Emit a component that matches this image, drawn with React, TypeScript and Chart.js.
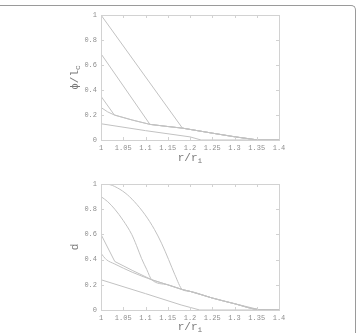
import React, { useEffect, useRef } from "react";
import { Chart, registerables } from "chart.js";
Chart.register(...registerables);

// ---------- axes ----------
const X_TICKS = [1, 1.05, 1.1, 1.15, 1.2, 1.25, 1.3, 1.35, 1.4];
const X_TICK_LABELS = ["1", "1.05", "1.1", "1.15", "1.2", "1.25", "1.3", "1.35", "1.4"];
const Y_TICKS = [0, 0.2, 0.4, 0.6, 0.8, 1];
const Y_TICK_LABELS = ["0", "0.2", "0.4", "0.6", "0.8", "1"];

// ---------- top panel: phi / l_c ----------
const phiCommonX = [1.03, 1.07, 1.11, 1.15, 1.183, 1.25, 1.3, 1.353, 1.4];
const phiCommonY = [0.2, 0.16, 0.125, 0.108, 0.095, 0.055, 0.026, 0, 0];
const phiAX = [1, 1.183];
const phiAY = [1, 0.095];
const phiBX = [1, 1.11];
const phiBY = [0.69, 0.125];
const phiCX = [1, 1.03];
const phiCY = [0.35, 0.2];
const phiDX = [1, 1.015, 1.03];
const phiDY = [0.26, 0.225, 0.2];
const phiEX = [1, 1.1, 1.2, 1.225, 1.4];
const phiEY = [0.13, 0.075, 0.025, 0, 0];

// ---------- bottom panel: d ----------
const dCommonX = [1.114, 1.15, 1.183, 1.2, 1.25, 1.3, 1.355, 1.4];
const dCommonY = [0.24, 0.2, 0.162, 0.148, 0.095, 0.05, 0.003, 0];
const dAX = [1, 1.02, 1.031, 1.054, 1.075, 1.099, 1.12, 1.136, 1.152, 1.166, 1.183];
const dAY = [1, 0.995, 0.98, 0.93, 0.86, 0.756, 0.64, 0.53, 0.4, 0.28, 0.162];
const dBX = [1, 1.015, 1.031, 1.05, 1.069, 1.08, 1.091, 1.103, 1.114];
const dBY = [0.9, 0.86, 0.8, 0.71, 0.6, 0.51, 0.41, 0.32, 0.24];
const dCX = [1, 1.031, 1.07];
const dCY = [0.6, 0.385, 0.315];
const dDX = [1, 1.012, 1.031, 1.07];
const dDY = [0.45, 0.4, 0.365, 0.3];
const dEX = [1, 1.1, 1.18, 1.222, 1.4];
const dEY = [0.24, 0.13, 0.04, 0, 0];

type Pt = { x: number; y: number };

function withCommon(xs: number[], ys: number[], cx: number[], cy: number[], join: boolean): Pt[] {
  const pts: Pt[] = xs.map((x, i) => ({ x, y: ys[i] }));
  if (!join) return pts;
  const last = xs[xs.length - 1];
  cx.forEach((x, i) => {
    if (x > last + 1e-9) pts.push({ x, y: cy[i] });
  });
  return pts;
}

const LINE_COLOR = "#c2c2c2";
const TEXT_COLOR = "#8e8e8e";
const FONT = '"Liberation Mono", "DejaVu Sans Mono", monospace';

type Series = { pts: Pt[]; curved?: boolean };

type PanelProps = {
  top: number;
  height: number;
  plotTop: number;
  plotBottom: number;
  series: Series[];
  yTitle: string;
  yTitleSub: string;
  xTitleY: number;
};

function Panel({ top, height, plotTop, plotBottom, series, yTitle, yTitleSub, xTitleY }: PanelProps) {
  const ref = useRef<HTMLCanvasElement | null>(null);
  useEffect(() => {
    if (!ref.current) return;
    const W = 357;
    const left = 101;
    const right = 279;
    const framePlugin = {
      id: "frame",
      afterDraw(chart: any) {
        const ctx = chart.ctx;
        const a = chart.chartArea;
        const xs = chart.scales.x;
        const ys = chart.scales.y;
        ctx.save();
        ctx.strokeStyle = "#d2d2d2";
        ctx.lineWidth = 1;
        ctx.strokeRect(Math.round(a.left) + 0.5, Math.round(a.top) + 0.5, Math.round(a.right - a.left), Math.round(a.bottom - a.top));
        ctx.beginPath();
        X_TICKS.forEach((v) => {
          const px = Math.round(xs.getPixelForValue(v)) + 0.5;
          ctx.moveTo(px, a.bottom);
          ctx.lineTo(px, a.bottom - 3);
          ctx.moveTo(px, a.top);
          ctx.lineTo(px, a.top + 3);
        });
        Y_TICKS.forEach((v) => {
          const py = Math.round(ys.getPixelForValue(v)) + 0.5;
          ctx.moveTo(a.left, py);
          ctx.lineTo(a.left + 3, py);
          ctx.moveTo(a.right, py);
          ctx.lineTo(a.right - 3, py);
        });
        ctx.stroke();

        // x title r/r_i
        ctx.fillStyle = "#7a7a7a";
        ctx.textBaseline = "middle";
        ctx.textAlign = "left";
        const mainFont = `11px ${FONT}`;
        const subFont = `8px ${FONT}`;
        ctx.font = mainFont;
        const w1 = ctx.measureText("r/r").width;
        ctx.font = subFont;
        const w2 = ctx.measureText("i").width;
        const cx = (a.left + a.right) / 2;
        const sx = cx - (w1 + w2) / 2;
        ctx.font = mainFont;
        ctx.fillText("r/r", sx, xTitleY);
        ctx.font = subFont;
        ctx.fillText("i", sx + w1, xTitleY + 3);

        // y title rotated
        ctx.save();
        ctx.translate(75, (a.top + a.bottom) / 2);
        ctx.rotate(-Math.PI / 2);
        ctx.font = mainFont;
        const m1 = ctx.measureText(yTitle).width;
        ctx.font = subFont;
        const m2 = yTitleSub ? ctx.measureText(yTitleSub).width : 0;
        const sy = -(m1 + m2) / 2;
        ctx.font = mainFont;
        ctx.fillText(yTitle, sy, 0);
        if (yTitleSub) {
          ctx.font = subFont;
          ctx.fillText(yTitleSub, sy + m1, 3);
        }
        ctx.restore();
        ctx.restore();
      },
    };

    const chart = new Chart(ref.current, {
      type: "line",
      data: {
        datasets: series.map((s) => ({
          data: s.pts,
          borderColor: LINE_COLOR,
          borderWidth: 1,
          pointRadius: 0,
          fill: false,
          tension: 0,
          cubicInterpolationMode: s.curved ? "monotone" : "default",
        })) as any,
      },
      options: {
        animation: false,
        responsive: false,
        devicePixelRatio: 1,
        layout: { padding: { top: plotTop, right: W - right, left: 0, bottom: 0 } },
        plugins: { legend: { display: false }, tooltip: { enabled: false } },
        scales: {
          x: {
            type: "linear",
            min: 1,
            max: 1.4,
            grid: { display: false, drawTicks: false },
            border: { display: false },
            afterBuildTicks: (s: any) => {
              s.ticks = X_TICKS.map((v) => ({ value: v }));
            },
            afterFit: (s: any) => {
              s.height = height - plotBottom;
            },
            ticks: {
              autoSkip: false,
              maxRotation: 0,
              padding: 4,
              color: TEXT_COLOR,
              font: { family: FONT, size: 7 },
              callback: (_v: any, i: number) => X_TICK_LABELS[i],
            },
          },
          y: {
            type: "linear",
            min: 0,
            max: 1,
            grid: { display: false, drawTicks: false },
            border: { display: false },
            afterBuildTicks: (s: any) => {
              s.ticks = Y_TICKS.map((v) => ({ value: v }));
            },
            afterFit: (s: any) => {
              s.width = left;
            },
            ticks: {
              padding: 4,
              color: TEXT_COLOR,
              font: { family: FONT, size: 7 },
              callback: (_v: any, i: number) => Y_TICK_LABELS[i],
            },
          },
        },
      },
      plugins: [framePlugin],
    } as any);
    return () => chart.destroy();
  }, []);
  return (
    <canvas
      ref={ref}
      width={357}
      height={height}
      style={{ position: "absolute", left: 0, top, width: 357, height }}
    />
  );
}

export default function App() {
  const topSeries: Series[] = [
    { pts: withCommon(phiAX, phiAY, phiCommonX, phiCommonY, true) },
    { pts: withCommon(phiBX, phiBY, phiCommonX, phiCommonY, true) },
    { pts: withCommon(phiCX, phiCY, phiCommonX, phiCommonY, true) },
    { pts: withCommon(phiDX, phiDY, phiCommonX, phiCommonY, true) },
    { pts: withCommon(phiEX, phiEY, [], [], false) },
  ];
  const bottomSeries: Series[] = [
    { pts: withCommon(dAX, dAY, dCommonX, dCommonY, true), curved: true },
    { pts: withCommon(dBX, dBY, dCommonX, dCommonY, true), curved: true },
    { pts: withCommon(dCX, dCY, dCommonX, dCommonY, true) },
    { pts: withCommon(dDX, dDY, dCommonX, dCommonY, true), curved: true },
    { pts: withCommon(dEX, dEY, [], [], false) },
  ];
  return (
    <div
      style={{
        position: "fixed",
        left: 0,
        top: 0,
        width: 357,
        height: 333,
        overflow: "hidden",
        background: "#fff",
      }}
    >
      <div
        style={{
          position: "absolute",
          left: -10,
          top: 5,
          width: 366,
          height: 400,
          boxSizing: "border-box",
          borderTop: "1.5px solid #9a9a9a",
          borderRight: "1.5px solid #9a9a9a",
          borderTopRightRadius: 5,
        }}
      />
      <Panel
        top={0}
        height={168}
        plotTop={15}
        plotBottom={140}
        series={topSeries}
        yTitle={"ϕ/l"}
        yTitleSub={"c"}
        xTitleY={158}
      />
      <Panel
        top={168}
        height={165}
        plotTop={16}
        plotBottom={142}
        series={bottomSeries}
        yTitle={"d"}
        yTitleSub={""}
        xTitleY={159}
      />
    </div>
  );
}
